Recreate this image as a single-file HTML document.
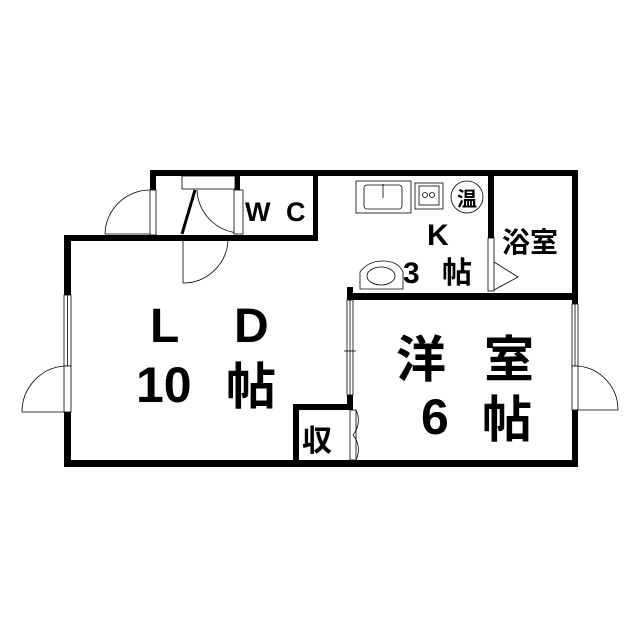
<!DOCTYPE html>
<html><head><style>body{margin:0;background:#fff}svg{display:block}</style></head><body>
<svg width="640" height="640" viewBox="0 0 640 640" xmlns="http://www.w3.org/2000/svg" font-family="Liberation Sans, Noto Sans CJK JP, sans-serif">
<rect width="640" height="640" fill="#fff"/>
<g fill="#000">
<rect x="64" y="235" width="7" height="60"/>
<rect x="64" y="412" width="7" height="55"/>
<rect x="64" y="460" width="514" height="7"/>
<rect x="64" y="235" width="118" height="6"/>
<rect x="150" y="170" width="428" height="6"/>
<rect x="150" y="170" width="6" height="20"/>
<rect x="181" y="235" width="137" height="6"/>
<rect x="313" y="170" width="5" height="71"/>
<rect x="235" y="176" width="5" height="14"/>
<rect x="488" y="176" width="6" height="62"/>
<rect x="572" y="170" width="6" height="130"/>
<rect x="347" y="293" width="231" height="7"/>
<rect x="347" y="287" width="6" height="13"/>
<rect x="572" y="300" width="6" height="4"/>
<rect x="572" y="410" width="6" height="57"/>
<rect x="347" y="395" width="6" height="15"/>
<rect x="293" y="404" width="60" height="6"/>
<rect x="293" y="404" width="6" height="63"/>
</g>
<g fill="#fff" stroke="#000" stroke-width="0.8">
<rect x="64" y="295" width="7" height="71"/>
<line x1="67.5" y1="295" x2="67.5" y2="366"/>
<rect x="64" y="366" width="7" height="46"/>
<path d="M64 366 A46 46 0 0 0 22 412 L64 412" fill="none"/>
<rect x="150" y="190" width="6" height="45"/>
<path d="M150 190 A45 45 0 0 0 105 234 L150 234" fill="none"/>
<rect x="182" y="176" width="53" height="13"/>
<path d="M197 190 A45 45 0 0 0 240 233" fill="none"/>
<rect x="234" y="190" width="9" height="44"/>
<path d="M183 241 L183 283 A45 45 0 0 0 228 241" fill="none"/>
<rect x="488" y="238" width="6" height="53"/>
<path d="M494 262 L518 277 L494 290" fill="none"/>
<rect x="347" y="300" width="6" height="95"/>
<line x1="350" y1="300" x2="350" y2="395"/>
<line x1="344" y1="351" x2="356" y2="351"/>
<rect x="350" y="410" width="6" height="50"/>
<path d="M356 410 A23 23 0 0 1 353 435 M356 460 A23 23 0 0 0 353 435" fill="none"/>
<rect x="572" y="304" width="6" height="62"/>
<line x1="575" y1="304" x2="575" y2="366"/>
<rect x="572" y="366" width="6" height="44"/>
<path d="M578 366 A44 44 0 0 1 618 410 L578 410" fill="none"/>
<rect x="356" y="181" width="55" height="32"/>
<rect x="364" y="185" width="38" height="24" rx="3"/>
<line x1="383" y1="184" x2="383" y2="198"/>
<rect x="415" y="183" width="28" height="26"/>
<rect x="419" y="186" width="20" height="19"/>
<circle cx="425" cy="195" r="2.5"/><circle cx="432" cy="195" r="2.5"/>
<circle cx="467" cy="197" r="16"/>
<path d="M360 289 L360 272 Q368 261 383 261 Q398 261 403 272 L403 289 Z"/>
<ellipse cx="381" cy="276" rx="14" ry="9"/>
</g>
<line x1="195" y1="190" x2="182" y2="234" stroke="#000" stroke-width="3"/>
<g font-weight="bold">
<text x="245" y="221" font-size="27" letter-spacing="4">W C</text>
<text x="467" y="206" font-size="20" text-anchor="middle">温</text>
<text x="427" y="245" font-size="30">K</text>
<text x="403" y="283" font-size="30">3</text>
<text x="442" y="283" font-size="30">帖</text>
<text x="502" y="252" font-size="28">浴室</text>
<text x="150" y="342" font-size="48">L</text>
<text x="234" y="342" font-size="48">D</text>
<text x="136" y="402" font-size="50">10</text>
<text x="226" y="404" font-size="50">帖</text>
<text x="396" y="377" font-size="50">洋</text>
<text x="484" y="377" font-size="50">室</text>
<text x="421" y="434" font-size="50">6</text>
<text x="482" y="437" font-size="50">帖</text>
<text x="302" y="451" font-size="30">収</text>
</g>
</svg>
</body></html>
